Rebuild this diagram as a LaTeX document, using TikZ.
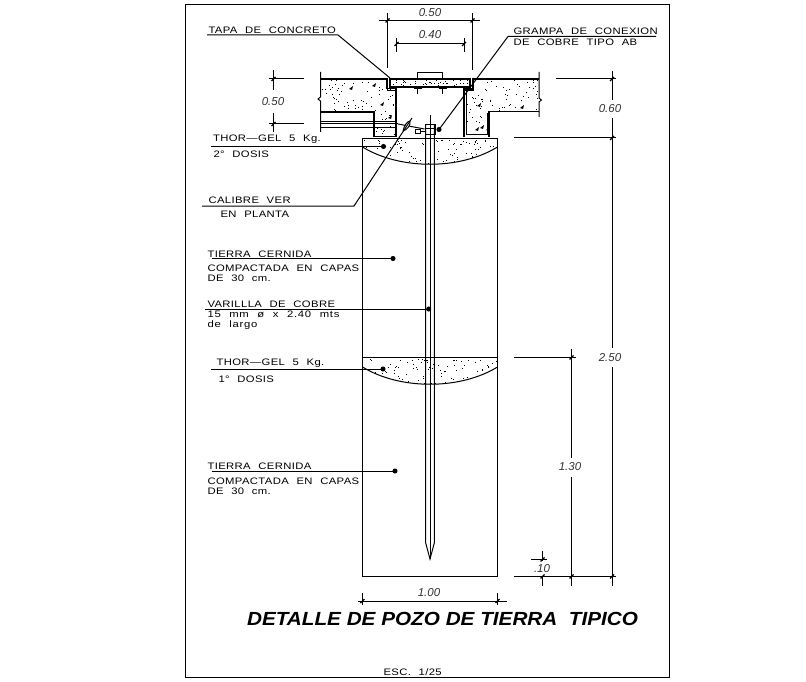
\documentclass[tikz,border=0pt]{standalone}
\usepackage{fontspec}
\setmainfont{Liberation Sans}
\newfontfamily\cadfont[FakeStretch=1.2,LetterSpace=4,WordSpace=2.2]{Liberation Sans}
\newfontfamily\titlefont[FakeStretch=1.09,BoldItalicFont={Liberation Sans Bold Italic}]{Liberation Sans}
\tikzset{
  lbl/.style={anchor=west,inner sep=0pt,font=\cadfont\fontsize{9.4}{10}\selectfont},
  dimtxt/.style={inner sep=1pt,text=black!80,font=\itshape\fontsize{11.5}{13}\selectfont},
  thin line/.style={line width=1pt},
  heavy/.style={line width=1.7pt,line join=miter}
}
\newcommand{\stipple}[5]{%
  \foreach \k in {1,...,#5}{
    \pgfmathsetmacro{\px}{#1+rnd*(#3-#1)}
    \pgfmathsetmacro{\py}{#2+rnd*(#4-#2)}
    \fill (\px,\py) rectangle ++(1,1);
  }}
\begin{document}
\begin{tikzpicture}[x=1pt,y=-1pt,thin line]
\pgfmathsetseed{17}
\useasboundingbox (0,0) rectangle (806,682);
\fill[white] (0,0) rectangle (806,682);
\draw (185.5,4.5) rectangle (669.5,677.5);

% pit
\coordinate (pitA) at (362.5,138.5);
\coordinate (pitB) at (497.5,138.5);
\coordinate (pitC) at (497.5,576.5);
\coordinate (pitD) at (362.5,576.5);
\draw (pitA)--(pitB)--(pitC)--(pitD)--cycle;

% gel layers
\coordinate (gelL) at (362.5,147);
\coordinate (gelR) at (497.5,147);
\coordinate (lowL) at (362.5,367);
\coordinate (lowR) at (497.5,367);
\draw (gelL) .. controls (400,170) and (460,170) .. (gelR);
\draw (362.5,357.5)--(497.5,357.5);
\draw (lowL) .. controls (400,390) and (460,390) .. (lowR);
\begin{scope}
\clip (pitA)--(pitB)--(gelR) .. controls (460,170) and (400,170) .. (gelL)--cycle;
\stipple{363}{139}{497}{166}{110}
\end{scope}
\begin{scope}
\clip (362.5,357.5)--(497.5,357.5)--(lowR) .. controls (460,390) and (400,390) .. (lowL)--cycle;
\stipple{363}{358}{497}{386}{110}
\end{scope}

% concrete slabs
\begin{scope}
\clip (320.5,79)--(386.5,79)--(386.5,88)--(396,88)--(396,136.5)--(374,136.5)--(374,112)--(320.5,112)--cycle;
\stipple{321}{79}{396}{137}{110}
\foreach \a/\b in {372/86,349/89,380/105,388/118}
  \fill (\a,\b)--++(4,-3)--++(-1,4)--cycle;
\end{scope}
\begin{scope}
\clip (473,79)--(539,79)--(539,111.5)--(489,111.5)--(489,137.5)--(464,137.5)--(464,89)--(473,89)--cycle;
\stipple{464}{79}{539}{138}{110}
\foreach \a/\b in {477/106,520/108,480/128,486/130,475/130}
  \fill (\a,\b)--++(4,-3)--++(-1,4)--cycle;
\end{scope}
\begin{scope}
\clip (390,79) rectangle (470,87);
\stipple{390}{79}{470}{87}{60}
\end{scope}
\draw[heavy] (320.5,79)--(386.5,79)--(386.5,88.5)--(396,88.5)--(396,136.5)--(374,136.5)--(374,112)--(320.5,112);
\draw[heavy] (539,79)--(473,79)--(473,89)--(464,89)--(464,137.5);
\draw[heavy] (539,111.5)--(489,111.5)--(489,137.5);
\draw (466.5,89)--(466.5,135)--(487,135)--(487,113);
\draw (320.5,72)--(320.5,97)--(318,99)--(320.5,101)--(320.5,132);
\draw (539,72)--(539,98)--(541.5,100)--(539,102)--(539,117);

% lid
\draw[heavy] (390,79) rectangle (470,87);
\draw (387,78)--(387,91)--(397,91);
\draw (473,78)--(473,91)--(463,91);
\draw (417.5,79)--(417.5,72.5)--(442.5,72.5)--(442.5,79);
\foreach \point in {417.5,442.5}{
  \draw[line width=2pt] (\point-4,88.5)--(\point+4,88.5);
  \draw (\point,87)--(\point,94);
}

% pipe and clamp
\draw (320.5,122)--(396,122);
\draw (320.5,124)--(398,124);
\draw (320.5,128)--(396,128);
\draw (398,124)--(424.5,129);
\draw[fill=white] (403,131) .. controls (404,125) and (408,121) .. (410,121) .. controls (411,125) and (407,130) .. (403,131);
\draw (420,132)--(425,132);
\draw[fill=white] (415.5,130) rectangle (420,134);

% rod
\draw (425.7,125)--(425.7,543)--(430,559)--(434.3,543)--(434.3,125);
\draw (430,115)--(430,559);
\draw (425,125) rectangle (435,135);
\draw (425,129)--(435,129);

% labels
\node[lbl] (tapa) at (208,30.5) {TAPA DE CONCRETO};
\node[lbl] (gramA) at (513,31) {GRAMPA DE CONEXION};
\node[lbl] (gramB) at (513,42.5) {DE COBRE TIPO AB};
\node[lbl] (gelA) at (212.5,139.5) {THOR—GEL 5 Kg.};
\node[lbl] (gelB) at (213,154.5) {2° DOSIS};
\node[lbl] (calA) at (208,200) {CALIBRE VER};
\node[lbl] (calB) at (220,214) {EN PLANTA};
\node[lbl] (tierA) at (207,254) {TIERRA CERNIDA};
\node[lbl] (tierB) at (207,268) {COMPACTADA EN CAPAS};
\node[lbl] (tierC) at (207,278.5) {DE 30 cm.};
\node[lbl] (varA) at (207,304) {VARILLLA DE COBRE};
\node[lbl] (varB) at (207,314.5) {\addfontfeature{LetterSpace=8}15 mm ø x 2.40 mts};
\node[lbl] (varC) at (207,325) {\addfontfeature{LetterSpace=8}de largo};
\node[lbl] (lowA) at (216,363) {THOR—GEL 5 Kg.};
\node[lbl] (lowB) at (218,379) {1° DOSIS};
\node[lbl] (soilA) at (207,466) {TIERRA CERNIDA};
\node[lbl] (soilB) at (207,481) {COMPACTADA EN CAPAS};
\node[lbl] (soilC) at (207,491.5) {DE 30 cm.};
\node[lbl] (esc) at (383,672) {ESC. 1/25};
\node[inner sep=0pt,font=\titlefont\bfseries\itshape\fontsize{19}{22}\selectfont] (title) at (442.5,619) {DETALLE DE POZO DE TIERRA\ \ TIPICO};

% leaders
\coordinate (tapaS) at (207,35);
\coordinate (tapaK) at (338,35);
\coordinate (tapaE) at (390,78);
\coordinate (gramS) at (656,36.5);
\coordinate (gramK) at (508,36.5);
\coordinate (gramE) at (439,129.5);
\coordinate (calS) at (202,206);
\coordinate (calK) at (354,206);
\coordinate (calE) at (412,118);
\draw (tapaS)--(tapaK)--(tapaE);
\draw (gramS)--(gramK)--(gramE);
\draw (calS)--(calK)--(calE);

\coordinate (gelDot) at (383.5,146.5);
\coordinate (tierDot) at (393,258.5);
\coordinate (varDot) at (428.7,309);
\coordinate (lowDot) at (383,369);
\coordinate (soilDot) at (395,471);
\draw (211,146.5)--(gelDot);
\draw (212,258.5)--(tierDot);
\draw (205,309)--(varDot);
\draw (211,369)--(lowDot);
\draw (212,471)--(soilDot);
\foreach \point in {gelDot,tierDot,varDot,lowDot,soilDot,gramE}
\draw[fill=black] (\point) circle (2pt);

% dimensions
\draw (379,20.5)--(480,20.5);
\draw (387.5,13)--(387.5,68);
\draw (472.5,13)--(472.5,70);
\draw (396.5,44)--(464,44);
\draw (396.5,38)--(396.5,52);
\draw (464,38)--(464,52);
\draw (269,79)--(304,79);
\draw (269,124)--(304,124);
\draw (273.5,70)--(273.5,90);
\draw (273.5,113)--(273.5,132);
\draw (556,79)--(616,79);
\draw (514,138)--(616,138);
\draw (612,71)--(612,100);
\draw (612,118)--(612,348);
\draw (612,367)--(612,586);
\draw (514,357.5)--(576,357.5);
\draw (571.5,349)--(571.5,458);
\draw (571.5,477)--(571.5,586);
\draw (514,576.5)--(616,576.5);
\draw (531,559.5)--(547,559.5);
\draw (542.5,551)--(542.5,561);
\draw (542.5,576)--(542.5,586);
\draw (358,601)--(507,601);
\draw (362.5,593)--(362.5,605);
\draw (497.5,593)--(497.5,605);
\foreach \a/\b in {387.5/20.5,472.5/20.5,396.5/44,464/44,273.5/79,273.5/124,612/79,612/138,571.5/357.5,571.5/576.5,612/576.5,542.5/559.5,542.5/576.5,362.5/601,497.5/601}
  \draw[line width=1.1pt] (\a-2,\b+2)--(\a+2,\b-2);

\node[dimtxt] (dimA) at (430,12.5) {0.50};
\node[dimtxt] (dimB) at (430,35) {0.40};
\node[dimtxt] (dimC) at (273,102) {0.50};
\node[dimtxt] (dimD) at (610,109) {0.60};
\node[dimtxt] (dimE) at (610,358) {2.50};
\node[dimtxt] (dimF) at (570,467) {1.30};
\node[dimtxt] (dimG) at (542,569) {.10};
\node[dimtxt] (dimH) at (429,593) {1.00};
\end{tikzpicture}
\end{document}
